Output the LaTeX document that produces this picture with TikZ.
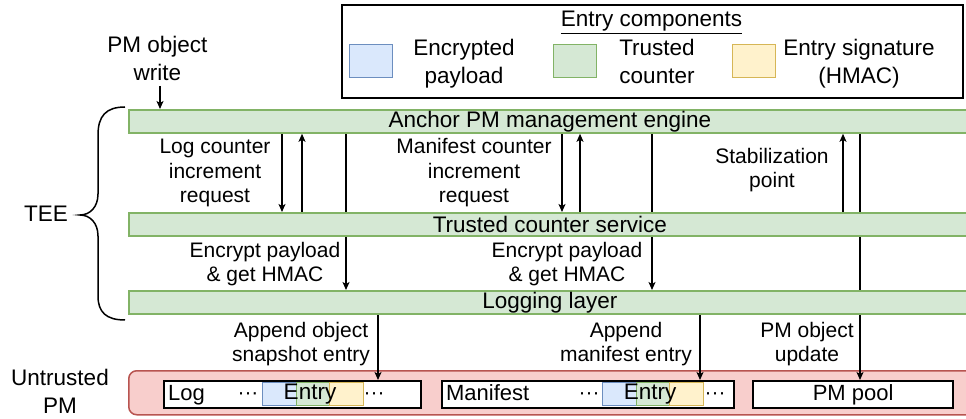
\documentclass[tikz,border=0pt]{standalone}
\usepackage{fontspec}
\setmainfont{Liberation Sans}
\usetikzlibrary{arrows.meta}
\pgfdeclarelayer{front}
\pgfsetlayers{main,front}

\definecolor{grfill}{HTML}{D5E8D4}
\definecolor{grline}{HTML}{82B366}
\definecolor{rdfill}{HTML}{F8CECC}
\definecolor{rdline}{HTML}{B85450}
\definecolor{blfill}{HTML}{DAE8FC}
\definecolor{blline}{HTML}{6C8EBF}
\definecolor{ylfill}{HTML}{FFF2CC}
\definecolor{ylline}{HTML}{D6B656}

\begin{document}
\begin{tikzpicture}[x=1pt,y=-1pt,
  bigtext/.style={font=\fontsize{22.5}{28}\selectfont, align=center, inner sep=0pt},
  smalltext/.style={font=\fontsize{21}{24.5}\selectfont, align=center, inner sep=0pt},
  layerbar/.style={draw=grline, fill=grfill, line width=1.8pt, minimum width=842pt,
    minimum height=23pt, inner sep=0pt, anchor=north west, font=\fontsize{22.5}{27}\selectfont},
  boxtext/.style={text height=15pt, text depth=4pt, inner ysep=0pt},
  store/.style={draw=black, fill=white, line width=2.2pt, minimum height=27pt,
    inner sep=0pt, anchor=north west, font=\fontsize{22}{26}\selectfont, boxtext},
  seg/.style={line width=1pt, minimum width=33.5pt, minimum height=23pt,
    inner sep=0pt, anchor=north west},
  entrytext/.style={font=\fontsize{22.5}{26}\selectfont, inner xsep=0pt, boxtext},
  dotstext/.style={font=\fontsize{21}{26}\selectfont, inner xsep=0pt, boxtext},
  swatch/.style={line width=1pt, minimum width=43pt, minimum height=33pt,
    inner sep=0pt, anchor=north west},
  flow/.style={line width=1.6pt, -{Stealth[length=8pt,width=7pt,inset=2pt]}}
]
\useasboundingbox (0,0) rectangle (966,419);
\clip (0,0) rectangle (966,419);

% ---------- legend ----------
\node[draw=black, line width=1.6pt, minimum width=621pt, minimum height=93pt,
      inner sep=0pt, anchor=north west] (legend) at (341,4) {};
\node[bigtext, anchor=base] (legtitle) at (651.5,27) {\underline{Entry components}};
\node[swatch, fill=blfill, draw=blline] (swblue) at (349,44) {};
\node[swatch, fill=grfill, draw=grline] (swgreen) at (553,44) {};
\node[swatch, fill=ylfill, draw=ylline] (swyellow) at (732,44) {};
\node[bigtext] (legblue) at (464,63.4) {Encrypted\\payload};
\node[bigtext] (leggreen) at (657,61) {Trusted\\counter};
\node[bigtext] (legyellow) at (859,63.4) {Entry signature\\(HMAC)};

% ---------- untrusted persistent memory ----------
\node[draw=rdline, fill=rdfill, line width=1.5pt, rounded corners=8pt,
      minimum width=860pt, minimum height=44pt, inner sep=0pt,
      anchor=north west] (untrusted) at (128,370) {};
\node[store, minimum width=257pt, text width=249pt, align=left] (logbox) at (163,380) {Log};
\node[store, minimum width=292pt, text width=284pt, align=left] (mfbox) at (441,380) {Manifest};
\node[store, minimum width=200pt] (pool) at (752,380) {PM pool};

% entries inside the log and the manifest
\node[seg, fill=blfill, draw=blline] (logpay) at (262,382) {};
\node[seg, fill=grfill, draw=grline] (logctr) at (295.5,382) {};
\node[seg, fill=ylfill, draw=ylline] (logsig) at (329,382) {};
\node[entrytext] (logentry) at (310,393.5) {Entry};
\node[dotstext] (logdotsa) at (248,393.5) {···};
\node[dotstext] (logdotsb) at (374,393.5) {···};

\node[seg, fill=blfill, draw=blline] (mfpay) at (602,382) {};
\node[seg, fill=grfill, draw=grline] (mfctr) at (635.5,382) {};
\node[seg, fill=ylfill, draw=ylline] (mfsig) at (669,382) {};
\node[entrytext] (mfentry) at (650,393.5) {Entry};
\node[dotstext] (mfdotsa) at (589,393.5) {···};
\node[dotstext] (mfdotsb) at (715,393.5) {···};

% ---------- trusted layers ----------
\begin{pgfonlayer}{front}
\node[layerbar] (engine) at (128,109) {Anchor PM management engine};
\node[layerbar] (counter) at (128,212) {Trusted counter service};
\node[layerbar] (logging) at (128,290) {Logging layer};
\end{pgfonlayer}

% ---------- side labels ----------
\node[bigtext] (tee) at (46,213.5) {TEE};
\node[bigtext] (untrustedlbl) at (60,391.3) {Untrusted\\PM};
\draw[line width=1.5pt]
  (125,107) .. controls (106,107) and (98,116) .. (98,135) -- (98,194)
  .. controls (98,207) and (90,215) .. (80,215)
  .. controls (90,215) and (98,223) .. (98,236) -- (98,296)
  .. controls (98,312) and (106,320) .. (125,320);

% ---------- flow labels ----------
\node[bigtext] (writelbl) at (157.5,58.8) {PM object\\write};
\node[smalltext] (logreq) at (215,173) {Log counter\\increment\\request};
\node[smalltext] (mfreq) at (474,173) {Manifest counter\\increment\\request};
\node[smalltext] (stab) at (772,170) {Stabilization\\point};
\node[smalltext] (enclog) at (265,264) {Encrypt payload\\\& get HMAC};
\node[smalltext] (encmf) at (567,264) {Encrypt payload\\\& get HMAC};
\node[smalltext] (applog) at (301,344) {Append object\\snapshot entry};
\node[smalltext] (appmf) at (626,344) {Append\\manifest entry};
\node[smalltext] (upd) at (807,344) {PM object\\update};

% ---------- connectors ----------
\coordinate (writesrc) at (160,86);
\draw[flow] (writesrc) -- (160,0 |- engine.north);

% log path
\draw[flow] (282,0 |- engine.south) -- (282,0 |- counter.north);
\draw[flow] (302,0 |- counter.north) -- (302,0 |- engine.south);
\draw[flow] (346,0 |- engine.south) -- (346,0 |- logging.north);
\draw[flow] (378,0 |- logging.south) -- (378,0 |- logbox.north);

% manifest path
\draw[flow] (562,0 |- engine.south) -- (562,0 |- counter.north);
\draw[flow] (580,0 |- counter.north) -- (580,0 |- engine.south);
\draw[flow] (652,0 |- engine.south) -- (652,0 |- logging.north);
\draw[flow] (700,0 |- logging.south) -- (700,0 |- mfbox.north);

% stabilization and object update
\draw[flow] (843,0 |- counter.north) -- (843,0 |- engine.south);
\draw[flow] (860,0 |- engine.south) -- (860,0 |- pool.north);
\end{tikzpicture}
\end{document}
